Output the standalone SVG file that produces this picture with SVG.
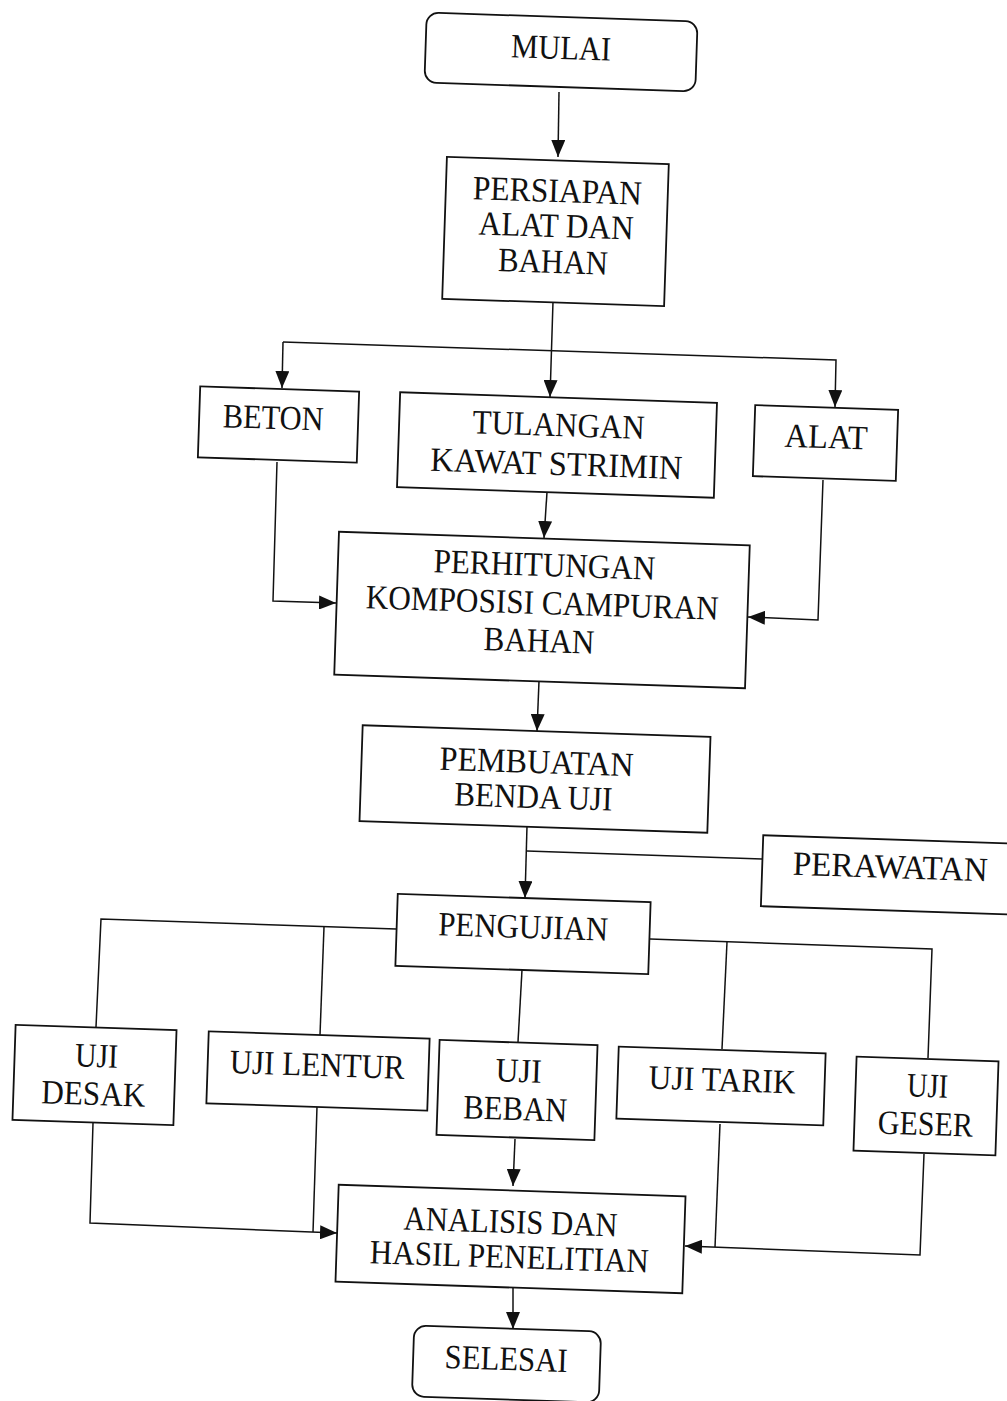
<svg xmlns="http://www.w3.org/2000/svg" width="1007" height="1401" viewBox="0 0 1007 1401">
<style>
.box{fill:#fff;stroke:#111;stroke-width:1.8}
.t{font-family:"Liberation Serif","Times New Roman",serif;font-size:34px;fill:#111;text-anchor:middle}
.c{fill:none;stroke:#111;stroke-width:1.5}
</style>
<defs>
<marker id="ah" markerUnits="userSpaceOnUse" markerWidth="17" markerHeight="14" refX="17" refY="7" orient="auto">
<path d="M0,0 L17,7 L0,14 z" fill="#111"/>
</marker>
</defs>
<rect width="1007" height="1401" fill="#fff"/>
<g id="connectors">
<path class="c" d="M559,92 L558,157" marker-end="url(#ah)"/>
<path class="c" d="M553,302 L550,397" marker-end="url(#ah)"/>
<path class="c" d="M283,342 L282,388" marker-end="url(#ah)"/>
<path class="c" d="M283,342 L836,360 L835,407" marker-end="url(#ah)"/>
<path class="c" d="M547,492 L544,538" marker-end="url(#ah)"/>
<path class="c" d="M277,462 L273,601 L336,603" marker-end="url(#ah)"/>
<path class="c" d="M823,480 L818,620 L748,617" marker-end="url(#ah)"/>
<path class="c" d="M539,681 L537,731" marker-end="url(#ah)"/>
<path class="c" d="M527,826 L525,898" marker-end="url(#ah)"/>
<path class="c" d="M527,851 L762,859"/>
<path class="c" d="M396,929 L101,919 L96,1027"/>
<path class="c" d="M324,927 L320,1035"/>
<path class="c" d="M650,939 L932,949 L928,1058"/>
<path class="c" d="M727,942 L722,1049"/>
<path class="c" d="M522,970 L518,1042"/>
<path class="c" d="M515,1139 L513,1186" marker-end="url(#ah)"/>
<path class="c" d="M93,1123 L90,1223 L337,1233" marker-end="url(#ah)"/>
<path class="c" d="M317,1107 L313,1232"/>
<path class="c" d="M720,1124 L715,1247"/>
<path class="c" d="M924,1154 L920,1255 L685,1246" marker-end="url(#ah)"/>
<path class="c" d="M513,1288 L513,1329" marker-end="url(#ah)"/>
</g>
<g id="mulai" transform="rotate(1.9 561 52)">
<rect class="box" x="425.5" y="17" width="271" height="70" rx="12"/>
<text class="t" x="561" y="59" textLength="100" lengthAdjust="spacingAndGlyphs">MULAI</text>
</g>
<g id="persiapan" transform="rotate(1.9 555.5 231.5)">
<rect class="box" x="444.5" y="160.5" width="222" height="142"/>
<text class="t" x="556" y="202" textLength="169" lengthAdjust="spacingAndGlyphs">PERSIAPAN</text>
<text class="t" x="556" y="237" textLength="155" lengthAdjust="spacingAndGlyphs">ALAT DAN</text>
<text class="t" x="554" y="273" textLength="110" lengthAdjust="spacingAndGlyphs">BAHAN</text>
</g>
<g id="beton" transform="rotate(1.9 278.5 424.5)">
<rect class="box" x="199" y="389" width="159" height="71"/>
<text class="t" x="273" y="429" textLength="101" lengthAdjust="spacingAndGlyphs">BETON</text>
</g>
<g id="tulangan" transform="rotate(1.9 557 445)">
<rect class="box" x="398.5" y="397.5" width="317" height="95"/>
<text class="t" x="558" y="436" textLength="172" lengthAdjust="spacingAndGlyphs">TULANGAN</text>
<text class="t" x="557" y="475" textLength="252" lengthAdjust="spacingAndGlyphs">KAWAT STRIMIN</text>
</g>
<g id="alat" transform="rotate(1.9 825.5 443)">
<rect class="box" x="754" y="407.5" width="143" height="71"/>
<text class="t" x="826" y="448" textLength="83" lengthAdjust="spacingAndGlyphs">ALAT</text>
</g>
<g id="perhitungan" transform="rotate(1.9 542 610)">
<rect class="box" x="336.5" y="538.5" width="411" height="143"/>
<text class="t" x="543" y="576" textLength="222" lengthAdjust="spacingAndGlyphs">PERHITUNGAN</text>
<text class="t" x="542" y="614" textLength="353" lengthAdjust="spacingAndGlyphs">KOMPOSISI CAMPURAN</text>
<text class="t" x="540" y="652" textLength="111" lengthAdjust="spacingAndGlyphs">BAHAN</text>
</g>
<g id="pembuatan" transform="rotate(1.9 535 779)">
<rect class="box" x="361" y="731" width="348" height="96"/>
<text class="t" x="536" y="773" textLength="194" lengthAdjust="spacingAndGlyphs">PEMBUATAN</text>
<text class="t" x="534" y="808" textLength="158" lengthAdjust="spacingAndGlyphs">BENDA UJI</text>
</g>
<g id="perawatan" transform="rotate(1.9 890 875)">
<rect class="box" x="762" y="839.5" width="256" height="71"/>
<text class="t" x="890" y="878" textLength="195" lengthAdjust="spacingAndGlyphs">PERAWATAN</text>
</g>
<g id="pengujian" transform="rotate(1.9 523 934)">
<rect class="box" x="396.5" y="898" width="253" height="72"/>
<text class="t" x="523" y="938" textLength="170" lengthAdjust="spacingAndGlyphs">PENGUJIAN</text>
</g>
<g id="uji-desak" transform="rotate(1.9 94.5 1075)">
<rect class="box" x="14" y="1027.5" width="161" height="95"/>
<text class="t" x="96" y="1067" textLength="43" lengthAdjust="spacingAndGlyphs">UJI</text>
<text class="t" x="94" y="1105" textLength="104" lengthAdjust="spacingAndGlyphs">DESAK</text>
</g>
<g id="uji-lentur" transform="rotate(1.9 318 1071)">
<rect class="box" x="207.5" y="1035" width="221" height="72"/>
<text class="t" x="317" y="1076" textLength="175" lengthAdjust="spacingAndGlyphs">UJI LENTUR</text>
</g>
<g id="uji-beban" transform="rotate(1.9 517 1090)">
<rect class="box" x="438" y="1042.5" width="158" height="95"/>
<text class="t" x="518" y="1082" textLength="46" lengthAdjust="spacingAndGlyphs">UJI</text>
<text class="t" x="516" y="1120" textLength="104" lengthAdjust="spacingAndGlyphs">BEBAN</text>
</g>
<g id="uji-tarik" transform="rotate(1.9 721 1086)">
<rect class="box" x="617.5" y="1050" width="207" height="72"/>
<text class="t" x="722" y="1091" textLength="147" lengthAdjust="spacingAndGlyphs">UJI TARIK</text>
</g>
<g id="uji-geser" transform="rotate(1.9 926 1106)">
<rect class="box" x="855" y="1059" width="142" height="94"/>
<text class="t" x="927" y="1097" textLength="41" lengthAdjust="spacingAndGlyphs">UJI</text>
<text class="t" x="926" y="1135" textLength="95" lengthAdjust="spacingAndGlyphs">GESER</text>
</g>
<g id="analisis" transform="rotate(1.9 510.5 1239)">
<rect class="box" x="337" y="1190.5" width="347" height="97"/>
<text class="t" x="510" y="1233" textLength="214" lengthAdjust="spacingAndGlyphs">ANALISIS DAN</text>
<text class="t" x="510" y="1268" textLength="279" lengthAdjust="spacingAndGlyphs">HASIL PENELITIAN</text>
</g>
<g id="selesai" transform="rotate(1.9 506.5 1364)">
<rect class="box" x="413" y="1328.5" width="187" height="71" rx="12"/>
<text class="t" x="506" y="1370" textLength="123" lengthAdjust="spacingAndGlyphs">SELESAI</text>
</g>
</svg>
